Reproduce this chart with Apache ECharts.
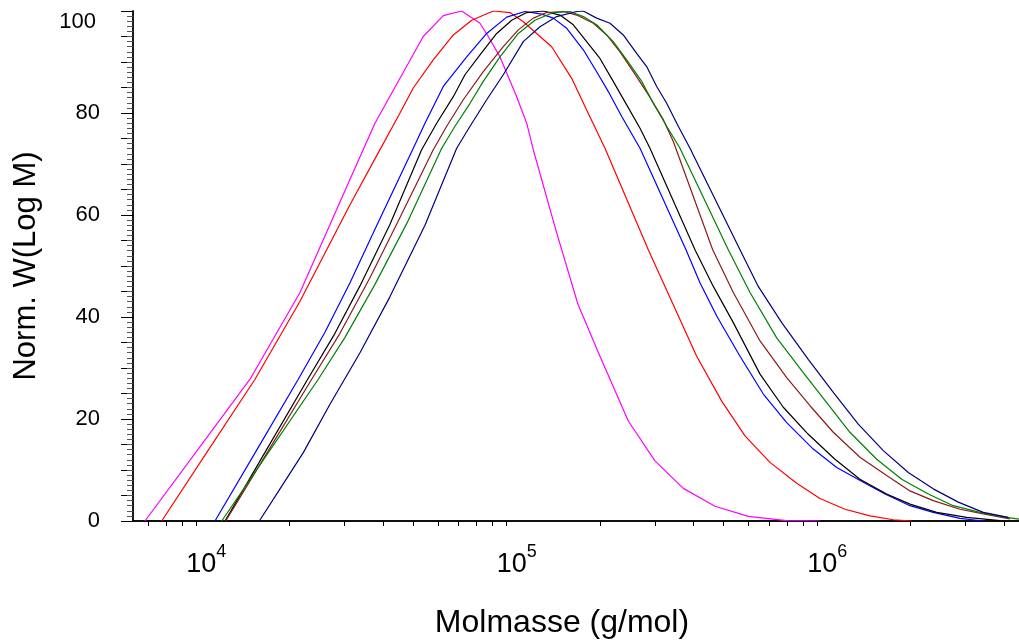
<!DOCTYPE html>
<html>
<head>
<meta charset="utf-8">
<script src="https://cdn.jsdelivr.net/npm/echarts@6/dist/echarts.min.js"></script>
<style>
html,body{margin:0;padding:0;background:#fff;}
#c{width:1019px;height:644px;}
</style>
</head>
<body>
<div id="c"></div>
<script>
// ---- data: [Molmasse (g/mol), Norm. W(Log M)] ----
const magenta = [[6840,0],[10097,13.9],[14905,27.8],[21595,44.8],[31290,67],[37650,78],[45330,86.8],[53860,95],[62500,99.1],[71640,100],[82040,97.6],[87250,95],[95150,91],[107700,83.2],[116000,78],[121800,72.8],[144100,57],[169650,42.5],[199700,32.3],[246400,19.6],[300300,11.8],[370500,6.4],[468800,2.9],[600000,0.9],[797800,0.06],[1021000,0]];
const red = [[7743,0],[10940,13.9],[15470,27.8],[21595,43.1],[31290,62],[37650,71],[45330,80],[50030,84.9],[58010,90.4],[67300,95.3],[77170,98.2],[90530,100],[102500,99.7],[113100,97.9],[139600,93],[161950,86.8],[180950,80.6],[207300,73.1],[285800,53.2],[409200,32.3],[492600,23.5],[585500,16.7],[704700,11.5],[859000,7.4],[1021000,4.4],[1229000,2.3],[1479000,1.0],[1759000,0.25],[2016000,0]];
const blue = [[11495,0],[15660,13.9],[21320,27.8],[25990,37],[31290,46.7],[37650,57.2],[50030,73.1],[54560,78],[62500,85.2],[74340,91],[86230,95.6],[100000,98.8],[114500,99.9],[129600,99.4],[141300,98.6],[156100,96.6],[176500,92.4],[194900,88.1],[212500,84.2],[234700,79.3],[268800,73.1],[378000,53.2],[419300,46.7],[474700,40.2],[564200,32.3],[670700,24.9],[797800,19.3],[971400,14.1],[1156000,10.5],[1408000,7.6],[1654000,5.3],[1990000,3.0],[2365000,1.7],[2884000,0.5],[3428000,0]];
const black = [[12385,0],[16820,13.9],[22860,27.8],[27990,36.8],[33690,46.1],[42100,58.2],[53220,72.8],[59510,78],[67300,83.2],[73400,87.5],[82040,91.4],[92860,95.6],[103800,98.2],[116000,99.7],[131200,100],[148500,99.2],[163900,97.3],[180950,94],[199700,90.7],[220400,86.2],[243500,81.6],[268800,77],[289400,73.1],[404100,53.2],[462900,46],[536900,38.9],[654500,28.8],[777800,22.3],[936000,17],[1141000,12.1],[1373000,8.2],[1674000,5.3],[1990000,3.3],[2426000,1.7],[3030000,0.7],[3879000,0.06]];
const brown = [[12450,0],[17120,13.9],[23550,27.8],[29050,36.8],[36280,47.7],[45330,59.5],[58010,72.8],[64100,77.4],[72470,82.6],[84070,88.1],[97510,93],[109000,96.3],[121800,98.6],[134500,99.7],[152200,99.9],[168100,99.2],[190100,97.6],[209900,95.3],[231700,92],[255700,88.1],[285800,83.6],[319500,78.7],[344100,74.4],[460800,53.2],[536900,44.8],[654500,35.3],[797800,28.1],[948000,22.6],[1127000,17.4],[1373000,12.5],[1674000,8.9],[1990000,5.9],[2365000,4.0],[2884000,2.3],[3428000,1.4],[4178000,0.4]];
const green = [[12085,0],[17290,13.9],[24730,27.8],[30150,36],[37650,46.4],[48100,58.8],[61770,73.1],[68160,77.4],[76200,81.9],[84070,86.2],[95150,91],[109000,95.6],[123300,98.2],[141300,99.7],[159950,99.9],[176500,98.9],[194900,97.3],[220400,94],[243500,90.4],[272200,86.2],[296600,81.9],[327600,77.4],[361500,73.1],[517300,53.2],[607700,44.8],[740700,35.9],[902000,29.1],[1073000,23.2],[1275000,17.4],[1555000,12.1],[1871000,8.2],[2279000,5.3],[2743000,3.0],[3344000,1.7],[4077000,0.7],[4845000,0.1]];
const navy = [[15970,0],[18620,6.3],[22130,13.4],[26970,22.9],[33690,33],[42100,44],[54560,58],[69020,73.1],[76200,77.4],[86230,82.6],[97510,87.5],[113100,94],[128000,96.9],[144900,98.9],[168100,99.9],[176500,100],[194900,98.6],[215200,97.6],[237400,95.3],[262200,91.7],[282400,89.1],[304200,85.2],[327600,81.9],[357000,77.4],[389400,73.1],[564200,53.2],[646000,46],[768800,38.9],[936000,31.7],[1127000,25.2],[1356000,19],[1633000,13.8],[1965000,9.5],[2365000,6.3],[2847000,3.7],[3428000,1.7],[4126000,0.7]];

// ---- axis ticks / labels ----
const xTickValues = [7000,8000,9000,10000,20000,30000,40000,50000,60000,70000,80000,90000,100000,200000,300000,400000,500000,600000,700000,800000,900000,1000000,2000000,3000000,4000000];
const xLabelValues = [10000,100000,1000000];
const yMajorTicks = [0,5,10,15,20,25,30,35,40,45,50,55,60,65,70,75,80,85,90,95,100];
const yLabelValues = [0,20,40,60,80,100];

const seriesList = [
  {name:'magenta', data: magenta, color:'#ff00ff'},
  {name:'red', data: red, color:'#ff0000'},
  {name:'blue', data: blue, color:'#0000ff'},
  {name:'black', data: black, color:'#000000'},
  {name:'brown', data: brown, color:'#8b1a1a'},
  {name:'green', data: green, color:'#008000'},
  {name:'navy', data: navy, color:'#000080'}
];

const FONT = '"Liberation Sans", Arial, Helvetica, sans-serif';
const chart = echarts.init(document.getElementById('c'), null, {renderer:'canvas'});
chart.setOption({
  animation: false,
  backgroundColor: '#fff',
  grid: {left: 133, right: 0, top: 11, bottom: 122, containLabel: false},
  xAxis: [{
    type: 'log', logBase: 10, min: 6259, max: 4467000,
    name: 'Molmasse (g/mol)', nameLocation: 'middle', nameGap: 86,
    nameTextStyle: {fontFamily: FONT, fontSize: 32, color: '#000', padding: [0, 28, 0, 0]},
    axisLine: {show: true, onZero: false, lineStyle: {color: '#000', width: 1.5}},
    axisTick: {show: true, length: 5, customValues: xTickValues, lineStyle: {color: '#000', width: 1}},
    minorTick: {show: false},
    splitLine: {show: false},
    axisLabel: {
      show: true, customValues: xLabelValues, margin: 30,
      fontFamily: FONT, fontSize: 27, color: '#000',
      formatter: function (v) { return '{p| }{b|10}{s|' + Math.round(Math.log10(v)) + '}'; },
      rich: {
        p: {fontFamily: FONT, fontSize: 10, width: 20, lineHeight: 10, verticalAlign: 'bottom'},
        b: {fontFamily: FONT, fontSize: 27, color: '#000', lineHeight: 27, verticalAlign: 'bottom'},
        s: {fontFamily: FONT, fontSize: 18, color: '#000', lineHeight: 18, padding: [0,0,17,0], verticalAlign: 'bottom'}
      }
    }
  }, {
    type: 'log', logBase: 10, min: 6259, max: 4467000, position: 'top',
    axisLine: {show: true, lineStyle: {color: '#000', width: 1.5}},
    axisTick: {show: false}, axisLabel: {show: false}, splitLine: {show: false}
  }],
  yAxis: {
    type: 'value', min: 0, max: 100, interval: 20,
    name: 'Norm. W(Log M)', nameLocation: 'middle', nameGap: 91,
    nameTextStyle: {fontFamily: FONT, fontSize: 31, color: '#000'},
    axisLine: {show: true, lineStyle: {color: '#000', width: 1.8}},
    axisTick: {show: true, length: 12, customValues: yMajorTicks, lineStyle: {color: '#000', width: 1}},
    minorTick: {show: true, splitNumber: 20, length: 6, lineStyle: {color: '#555', width: 1}},
    splitLine: {show: false},
    axisLabel: {
      customValues: yLabelValues, margin: 33, fontFamily: FONT, fontSize: 22, color: '#000',
      formatter: function (v) { return v === 100 ? '{t|' + v + '}' : '{n|' + v + '}'; },
      rich: {
        n: {fontFamily: FONT, fontSize: 22, color: '#000'},
        t: {fontFamily: FONT, fontSize: 22, color: '#000', padding: [22, 4, 0, 0]}
      }
    }
  },
  series: seriesList.map(s => ({
    name: s.name, type: 'line', data: s.data, xAxisIndex: 0,
    showSymbol: false, symbol: 'none', smooth: false, clip: true,
    lineStyle: {color: s.color, width: 1.2}, itemStyle: {color: s.color}
  }))
});
</script>
</body>
</html>
